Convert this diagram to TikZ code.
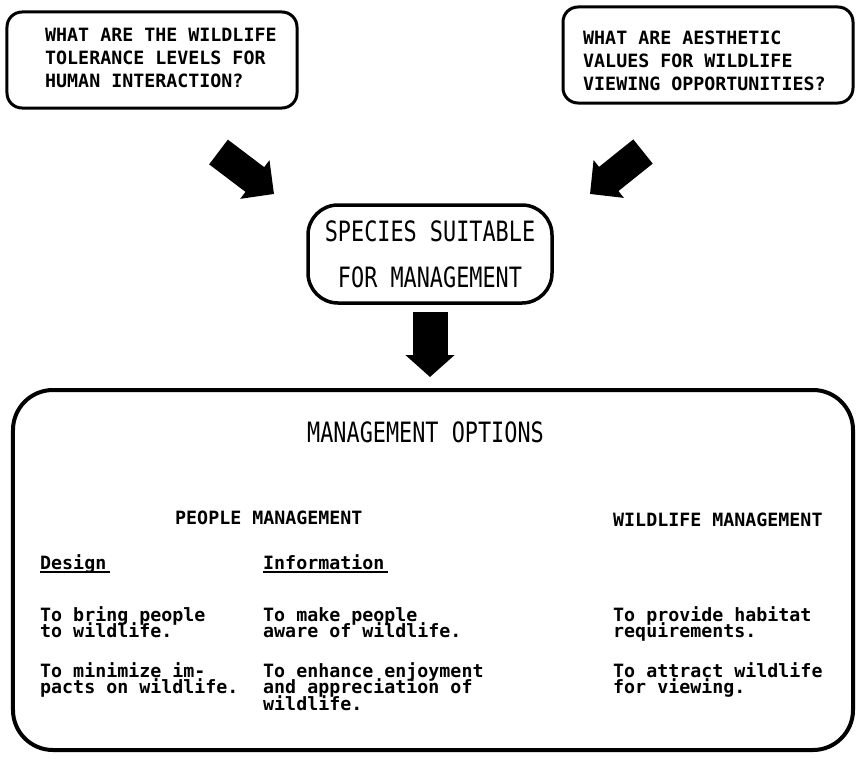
\documentclass[tikz,border=0pt]{standalone}
\usepackage{fontspec}
\usepackage{tikz}
\usetikzlibrary{arrows.meta}
\setmonofont{DejaVu Sans Mono}
\newfontfamily\bigmono[FakeStretch=0.78]{DejaVu Sans Mono}
\newcommand{\questxt}{\ttfamily\bfseries\fontsize{18.3bp}{22.5bp}\selectfont}
\newcommand{\opttxt}{\ttfamily\bfseries\fontsize{18.3bp}{16.8bp}\selectfont\lineskiplimit=-100bp}
\newcommand{\bigtxt}{\bigmono\fontsize{28bp}{46bp}\selectfont}

\begin{document}
\begin{tikzpicture}[x=1bp, y=-1bp, every node/.style={inner sep=0pt}]

      \tikzstyle{Ques}=[rectangle, rounded corners=15bp, draw=black, line width=3bp,
                        minimum width=290bp, minimum height=96bp];
      \tikzstyle{Spe}=[rectangle, rounded corners=30bp, draw=black, line width=3.5bp,
                        minimum width=244bp, minimum height=98bp];
      \tikzstyle{Opt}=[rectangle, rounded corners=40bp, draw=black, line width=4bp,
                        minimum width=840bp, minimum height=360bp];
      % base = baseline of the last line
      \tikzstyle{QTxt}=[anchor=base west, align=left, font=\questxt];
      \tikzstyle{OTxt}=[anchor=base west, align=left, font=\opttxt];
      \tikzstyle{Fat}=[line width=31bp, -{Triangle[length=24bp, width=47bp]}];

        \useasboundingbox (0, 0) rectangle (861, 759);

        % questions
        \node[Ques](TolBox) at (152, 60) {};
        \node[QTxt](Tol) at (45, 87) {WHAT ARE THE WILDLIFE\\TOLERANCE LEVELS FOR\\HUMAN INTERACTION?};

        \node[Ques](AesBox) at (708, 55) {};
        \node[QTxt](Aes) at (583, 90) {WHAT ARE AESTHETIC\\VALUES FOR WILDLIFE\\VIEWING OPPORTUNITIES?};

        \node[Spe](Spec) at (430, 254) {
          \parbox{230bp}{ %
            \centering
            \bigtxt
            SPECIES SUITABLE\\
            FOR MANAGEMENT
          }};

        \coordinate (TolS) at (218.5, 152);
        \coordinate (TolE) at (274, 194);
        \coordinate (AesS) at (643, 151.5);
        \coordinate (AesE) at (590, 194);
        \draw[Fat] (TolS) -- (TolE);
        \draw[Fat] (AesS) -- (AesE);

        % options
        \node[Opt](Opt) at (433, 570) {};
        \node[anchor=base, font=\bigtxt](OptTitle) at (425.5, 442) {MANAGEMENT OPTIONS};

        \draw[line width=35bp, -{Triangle[length=22bp, width=48bp]},
              shorten <=7.5bp, shorten >=11bp] (Spec) -- (Spec |- Opt.north);

        \node[OTxt](PeoMan) at (175, 524) {PEOPLE MANAGEMENT};
        \node[OTxt](WildMan) at (613, 526) {WILDLIFE MANAGEMENT};

        \node[OTxt](Des) at (40, 569) {Design};
        \node[OTxt](Info) at (263, 569) {Information};
        \draw[line width=1.5bp] ([yshift=-3bp]Des.base west) -- ([yshift=-3bp, xshift=3bp]Des.base east);
        \draw[line width=1.5bp] ([yshift=-3bp]Info.base west) -- ([yshift=-3bp, xshift=3bp]Info.base east);

        \node[OTxt](DesA) at (40, 637.8) {To bring people\\to wildlife.};
        \node[OTxt](DesB) at (40, 693.8) {To minimize im-\\pacts on wildlife.};
        \node[OTxt](InfoA) at (263, 637.8) {To make people\\aware of wildlife.};
        \node[OTxt](InfoB) at (263, 710.6) {To enhance enjoyment\\and appreciation of\\wildlife.};
        \node[OTxt](WildA) at (613, 637.8) {To provide habitat\\requirements.};
        \node[OTxt](WildB) at (613, 693.8) {To attract wildlife\\for viewing.};

    \end{tikzpicture}
\end{document}
